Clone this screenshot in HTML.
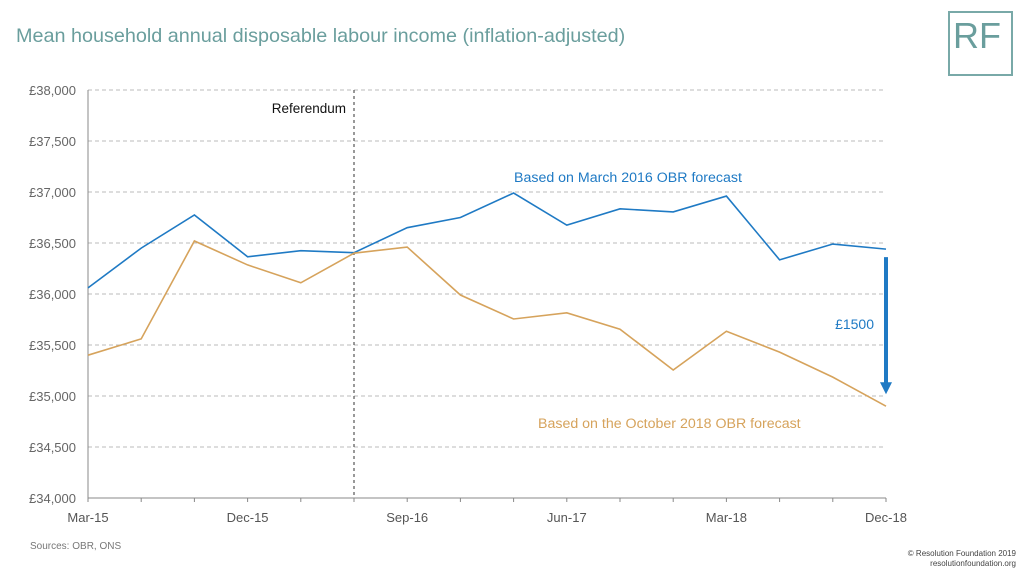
<!DOCTYPE html>
<html><head><meta charset="utf-8"><style>
body{margin:0;background:#fff;font-family:"Liberation Sans",sans-serif;}
svg text{font-family:"Liberation Sans",sans-serif;}
</style></head><body>
<svg id="c" width="1024" height="576" viewBox="0 0 1024 576" xmlns="http://www.w3.org/2000/svg">
<text x="16" y="42" font-size="19.8" fill="#6a9e9d">Mean household annual disposable labour income (inflation-adjusted)</text>
<g>
<rect x="949" y="12" width="63" height="63" fill="none" stroke="#79a9a8" stroke-width="2"/>
<text x="953" y="48" font-size="36" fill="#6a9e9d">RF</text>
</g>
<g id="grid"></g><g id="axes"></g><g id="series"></g>
<text x="30" y="549" font-size="10" fill="#777">Sources: OBR, ONS</text>
<text x="1016" y="556" font-size="8" fill="#444" text-anchor="end">© Resolution Foundation 2019</text>
<text x="1016" y="566" font-size="8" fill="#444" text-anchor="end">resolutionfoundation.org</text>
</svg>
<script>
const categories=["Mar-15","Jun-15","Sep-15","Dec-15","Mar-16","Jun-16","Sep-16","Dec-16","Mar-17","Jun-17","Sep-17","Dec-17","Mar-18","Jun-18","Sep-18","Dec-18"];
const march2016=[36060,36450,36775,36365,36425,36405,36650,36750,36990,36675,36835,36805,36960,36335,36490,36440];
const oct2018=[35400,35560,36520,36285,36110,36400,36460,35990,35755,35815,35655,35255,35635,35430,35185,34900];
const yTicks=[34000,34500,35000,35500,36000,36500,37000,37500,38000];
const xLabelIdx=[0,3,6,9,12,15];
const NS="http://www.w3.org/2000/svg";
const x0=88,x1=886,y0=498,y1=90,vmin=34000,vmax=38000;
const X=i=>x0+i*(x1-x0)/(categories.length-1);
const Y=v=>y0-(v-vmin)/(vmax-vmin)*(y0-y1);
function mk(t,a,p){const e=document.createElementNS(NS,t);for(const k in a)e.setAttribute(k,a[k]);p.appendChild(e);return e;}
const grid=document.getElementById('grid'),axes=document.getElementById('axes'),ser=document.getElementById('series');
yTicks.forEach(v=>{
 const l=mk('line',{x1:x0,x2:x1,y1:Y(v),y2:Y(v),stroke:v===vmin?'#888':'#bbb','stroke-dasharray':v===vmin?'':'4,3'},grid);
 
 
 const t=mk('text',{x:76,y:Y(v)+5,'font-size':13,fill:'#666','text-anchor':'end'},axes);
 t.textContent='£'+v.toLocaleString('en-GB');
 
 
});
mk('line',{x1:x0,x2:x0,y1:y1,y2:y0,stroke:'#888'},axes);
categories.forEach((c,i)=>{mk('line',{x1:X(i),x2:X(i),y1:y0,y2:y0+4,stroke:'#888'},axes);});
xLabelIdx.forEach(i=>{
 const t=mk('text',{x:X(i),y:522,'font-size':13,fill:'#555','text-anchor':'middle'},axes);
 t.textContent=categories[i];
 
 
});
const rl=mk('line',{x1:X(5),x2:X(5),y1:y1,y2:y0,stroke:'#333','stroke-dasharray':'3,3'},axes);


const rt=mk('text',{x:X(5)-8,y:113,'font-size':13.5,fill:'#111','text-anchor':'end'},axes);
rt.textContent='Referendum';


function line(d,col,name){
 const p=mk('polyline',{points:d.map((v,i)=>X(i)+','+Y(v)).join(' '),fill:'none',stroke:col,'stroke-width':1.6},ser);
 
 
}
line(march2016,'#1f7ac4','march-2016-forecast-line');
line(oct2018,'#d6a35c','october-2018-forecast-line');
const t1=mk('text',{x:514,y:182,'font-size':14.2,fill:'#1f7ac4'},ser);t1.textContent='Based on March 2016 OBR forecast';


const t2=mk('text',{x:538,y:428,'font-size':14.2,fill:'#d6a35c'},ser);t2.textContent='Based on the October 2018 OBR forecast';


const ax=X(15),ya=Y(march2016[15])+8,yb=Y(oct2018[15])-14;
const ar=mk('g',{},ser);


mk('line',{x1:ax,x2:ax,y1:ya,y2:yb-8,stroke:'#1f7ac4','stroke-width':4},ar);
mk('polygon',{points:`${ax-6},${yb-10} ${ax+6},${yb-10} ${ax},${yb+2}`,fill:'#1f7ac4'},ar);
const t3=mk('text',{x:ax-12,y:329,'font-size':14,fill:'#1f7ac4','text-anchor':'end'},ser);t3.textContent='£1500';


</script>
</body></html>
